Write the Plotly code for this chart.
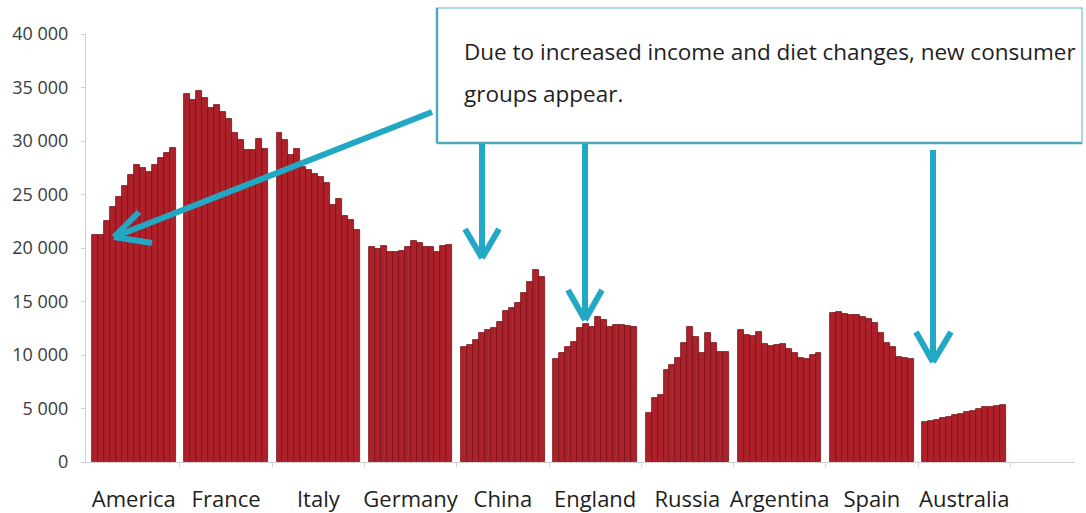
import plotly.graph_objects as go

# ---------------- data ----------------
countries = ["America", "France", "Italy", "Germany", "China",
             "England", "Russia", "Argentina", "Spain", "Australia"]

america = [21200, 21200, 22500, 23800, 24800, 25800, 26800, 27800, 27450, 27150, 27750, 28400, 28850, 29350]
france = [34400, 33800, 34700, 34000, 33100, 33400, 32750, 32050, 30750, 30100, 29200, 29200, 30150, 29250]
italy = [30750, 30050, 28700, 29250, 27600, 27250, 26950, 26600, 26050, 24050, 24550, 22950, 22650, 21700]
germany = [20050, 19950, 20200, 19650, 19650, 19750, 20100, 20700, 20500, 20100, 20050, 19650, 20200, 20300]
china = [10750, 10950, 11400, 12020, 12340, 12500, 13120, 14150, 14370, 14900, 15770, 16860, 17950, 17300]
england = [9600, 10150, 10780, 11250, 12500, 12900, 12600, 13580, 13270, 12600, 12800, 12800, 12710, 12650]
russia = [4550, 5950, 6250, 8600, 9070, 9700, 11150, 12600, 11700, 10150, 12100, 11150, 10300, 10300]
argentina = [12350, 11870, 11780, 12180, 11030, 10840, 10930, 11030, 10530, 10220, 9700, 9600, 10000, 10220]
spain = [13950, 14050, 13830, 13740, 13740, 13580, 13330, 12960, 12090, 11150, 10780, 9840, 9690, 9600]
australia = [3770, 3860, 3930, 4080, 4240, 4390, 4490, 4700, 4800, 4920, 5170, 5110, 5230, 5330]

series = [america, france, italy, germany, china,
          england, russia, argentina, spain, australia]

y_ticks = [0, 5000, 10000, 15000, 20000, 25000, 30000, 35000, 40000]

note_line1 = "Due to increased income and diet changes, new consumer"
note_line2 = "groups appear."

# ---------------- layout helpers ----------------
PITCH = 15.45          # slot units per country group (14 bars + gap)
X0, X1 = -1.5, 164.1   # x-axis range in slot units

xs, ys = [], []
for g, vals in enumerate(series):
    for i, v in enumerate(vals):
        xs.append(g * PITCH + i)
        ys.append(v)

centers = [g * PITCH + (len(series[g]) - 1) / 2 for g in range(len(series))]
bounds = [g * PITCH + 13.5 + (PITCH - 14) / 2 for g in range(len(series))]

W, H = 1086, 513
ML, MR, MT, MB = 86, 11, 34, 51
PW, PH = W - ML - MR, H - MT - MB


def px(xp):
    return (xp - ML) / PW


def py(yp):
    return (H - MB - yp) / PH


fig = go.Figure()
fig.add_trace(go.Bar(
    x=xs, y=ys, width=1.0,
    marker=dict(color="#AD212B", line=dict(color="#761319", width=0.8)),
    hoverinfo="y", showlegend=False,
))

TEAL = "#22A8C5"
shapes = []
# callout box
shapes.append(dict(type="rect", xref="paper", yref="paper",
                   x0=px(437), x1=px(1082), y0=py(143), y1=py(8),
                   line=dict(color="#8FCFD9", width=1.5), fillcolor="white", layer="above"))
shapes.append(dict(type="line", xref="paper", yref="paper",
                   x0=px(437), x1=px(1082), y0=py(143), y1=py(143),
                   line=dict(color="#4FA9B8", width=2.5), layer="above"))
shapes.append(dict(type="line", xref="paper", yref="paper",
                   x0=px(437), x1=px(437), y0=py(143), y1=py(8),
                   line=dict(color="#4FA9B8", width=2.5), layer="above"))


def arrow(x_start, y_start, x_tip, y_tip, a1, a2):
    segs = [((x_start, y_start), (x_tip, y_tip)),
            ((x_tip, y_tip), a1), ((x_tip, y_tip), a2)]
    for (xa, ya), (xb, yb) in segs:
        shapes.append(dict(type="line", xref="paper", yref="paper",
                           x0=px(xa), y0=py(ya), x1=px(xb), y1=py(yb),
                           line=dict(color=TEAL, width=6), layer="above"))


arrow(432, 112, 114, 237, (139, 212), (152, 243))
arrow(482, 144, 482, 258, (465, 229), (499, 229))
arrow(585, 144, 585, 320, (568, 290), (602, 290))
arrow(933, 150, 933, 362, (916, 332), (951, 332))

annotations = [
    dict(text=note_line1, xref="paper", yref="paper", x=px(462), y=py(52),
         xanchor="left", yanchor="middle", showarrow=False,
         font=dict(family="Open Sans", size=22.5, color="#1E1E1E")),
    dict(text=note_line2, xref="paper", yref="paper", x=px(462), y=py(93),
         xanchor="left", yanchor="middle", showarrow=False,
         font=dict(family="Open Sans", size=22.5, color="#1E1E1E")),
]

fig.update_layout(
    width=W, height=H,
    margin=dict(l=ML, r=MR, t=MT, b=MB, pad=0),
    paper_bgcolor="white", plot_bgcolor="white",
    bargap=0,
    separators=". ",
    shapes=shapes,
    annotations=annotations,
    font=dict(family="Open Sans"),
    xaxis=dict(
        range=[X0, X1], tickmode="array", tickvals=centers, ticktext=countries,
        ticks="", showgrid=False, zeroline=False, automargin=False,
        showline=True, linecolor="#D0D0D0", linewidth=1,
        tickfont=dict(family="Open Sans", size=22, color="#1E1E1E"),
        ticklabelstandoff=18,
        minor=dict(tickmode="array", tickvals=bounds, ticks="outside",
                   ticklen=4, tickcolor="#D0D0D0"),
    ),
    yaxis=dict(
        range=[0, 40000], tickmode="array", tickvals=y_ticks,
        tickformat=",d", showgrid=False, zeroline=False, automargin=False,
        showline=True, linecolor="#D0D0D0", linewidth=1,
        ticks="outside", ticklen=4, tickcolor="#D0D0D0",
        ticklabelstandoff=9,
        tickfont=dict(family="Open Sans", size=18, color="#3A3A3A"),
    ),
)

fig.write_html("out.html", config={"displayModeBar": False},
               post_script="document.body.style.margin='0';document.body.style.padding='0';")
